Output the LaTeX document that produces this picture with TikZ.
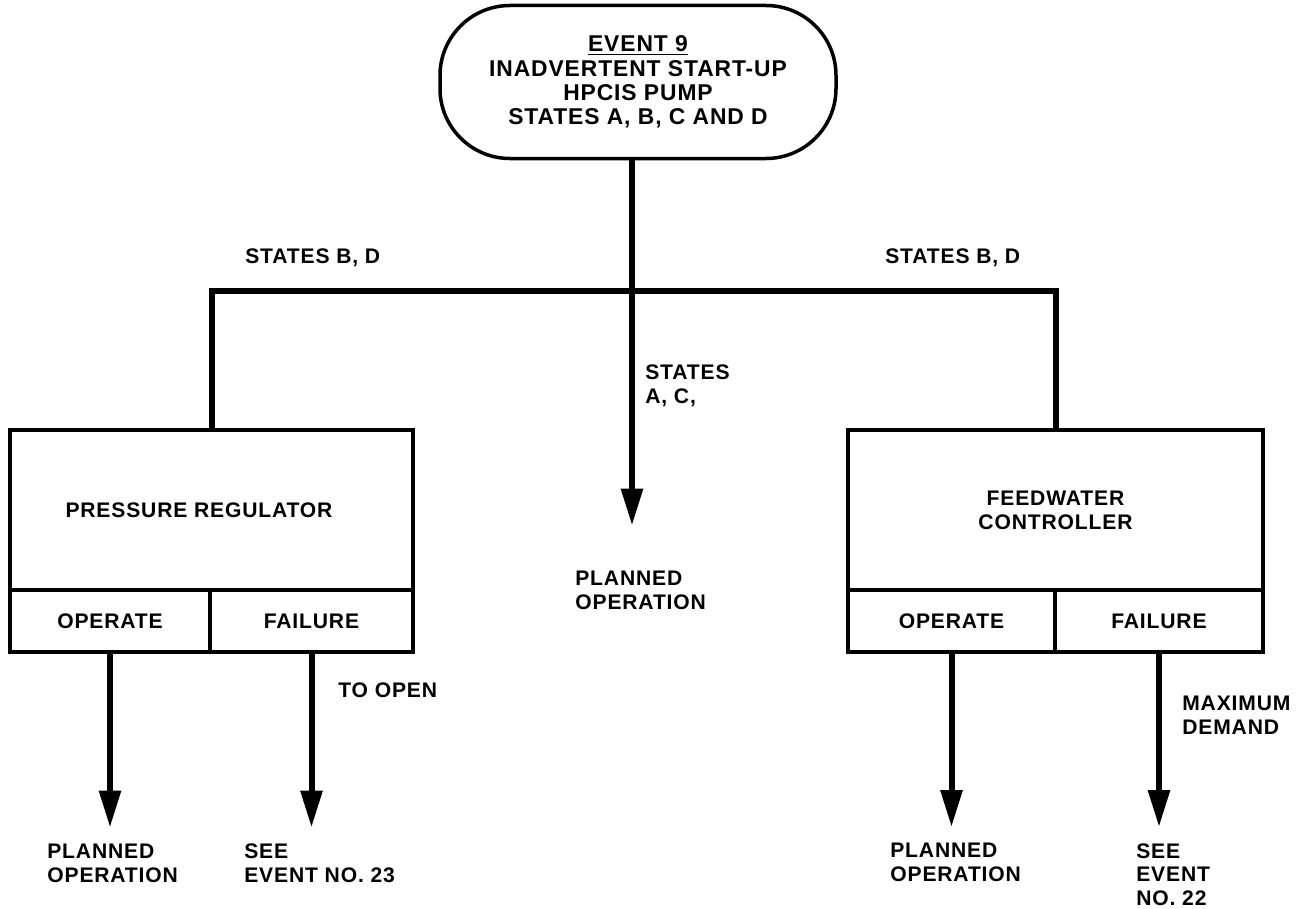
\documentclass[tikz,border=0pt]{standalone}
\usepackage{fontspec}
\setmainfont{Liberation Sans}[LetterSpace=4]
\usetikzlibrary{arrows.meta}

\tikzset{
  every node/.style={font=\bfseries\fontsize{12}{13.6}\selectfont},
  box/.style={draw,line width=0.7mm,inner sep=0,align=center},
  topbox/.style={box,rounded corners=14mm,minimum width=79.2mm,minimum height=30.6mm,
    font=\bfseries\fontsize{13}{13.8}\selectfont},
  lbl/.style={inner sep=0,align=left},
  bar/.style={line width=1.2mm},
  flow/.style={line width=1.2mm,-{Triangle[width=4.2mm,length=7.4mm]}}
}

\begin{document}
\begin{tikzpicture}[x=0.2mm,y=-0.2mm]
  \useasboundingbox (0,0) rectangle (1303,909);

  % top event
  \node[topbox] (event) at (638,82)
    {\underline{EVENT 9}\\INADVERTENT START-UP\\HPCIS PUMP\\STATES A, B, C AND D};

  % pressure regulator
  \node[box,minimum width=80.6mm,minimum height=32mm] (reg) at (211.5,510) {PRESSURE REGULATOR\hspace{5mm}};
  \node[box,minimum width=40mm,minimum height=12.4mm] (regop) at (110,621) {OPERATE};
  \node[box,minimum width=40.6mm,minimum height=12.4mm] (regfail) at (311.5,621) {FAILURE};

  % feedwater controller
  \node[box,minimum width=83mm,minimum height=32mm] (fwc) at (1055.5,510) {FEEDWATER\\CONTROLLER};
  \node[box,minimum width=41.4mm,minimum height=12.4mm] (fwcop) at (951.5,621) {OPERATE};
  \node[box,minimum width=41.6mm,minimum height=12.4mm] (fwcfail) at (1159,621) {FAILURE};

  % labels
  \node[lbl,anchor=west] (statesl) at (245,258) {STATES B, D};
  \node[lbl,anchor=west] (statesr) at (885,258) {STATES B, D};
  \node[lbl,anchor=north west] (statesac) at (645,364.5) {STATES\\A, C,};
  \node[lbl,anchor=north west] (midplan) at (575,570.5) {PLANNED\\OPERATION};
  \node[lbl,anchor=west] (toopen) at (338,690) {TO OPEN};
  \node[lbl,anchor=north west] (maxdem) at (1182,695.5) {MAXIMUM\\DEMAND};
  \node[lbl,anchor=north west] (regplan) at (47,843.5) {PLANNED\\OPERATION};
  \node[lbl,anchor=north west] (regsee) at (244,843.5) {SEE\\EVENT NO. 23};
  \node[lbl,anchor=north west] (fwcplan) at (890,843) {PLANNED\\OPERATION};
  \node[lbl,anchor=north west] (fwcsee) at (1136,843) {SEE\\EVENT\\NO. 22};

  % connectors
  \coordinate (split) at (632,291);
  \draw[bar] (reg.north) |- (split) -| (fwc.north);
  \draw[flow,shorten >=9mm] (event.south -| split) -- (split |- midplan.north);
  \draw[flow,shorten >=3.2mm] (regop.south) -- (regop.south |- regplan.north);
  \draw[flow,shorten >=3.2mm] (regfail.south) -- (regfail.south |- regsee.north);
  \draw[flow,shorten >=3.2mm] (fwcop.south) -- (fwcop.south |- fwcplan.north);
  \draw[flow,shorten >=3.2mm] (fwcfail.south) -- (fwcfail.south |- fwcsee.north);

\end{tikzpicture}
\end{document}
